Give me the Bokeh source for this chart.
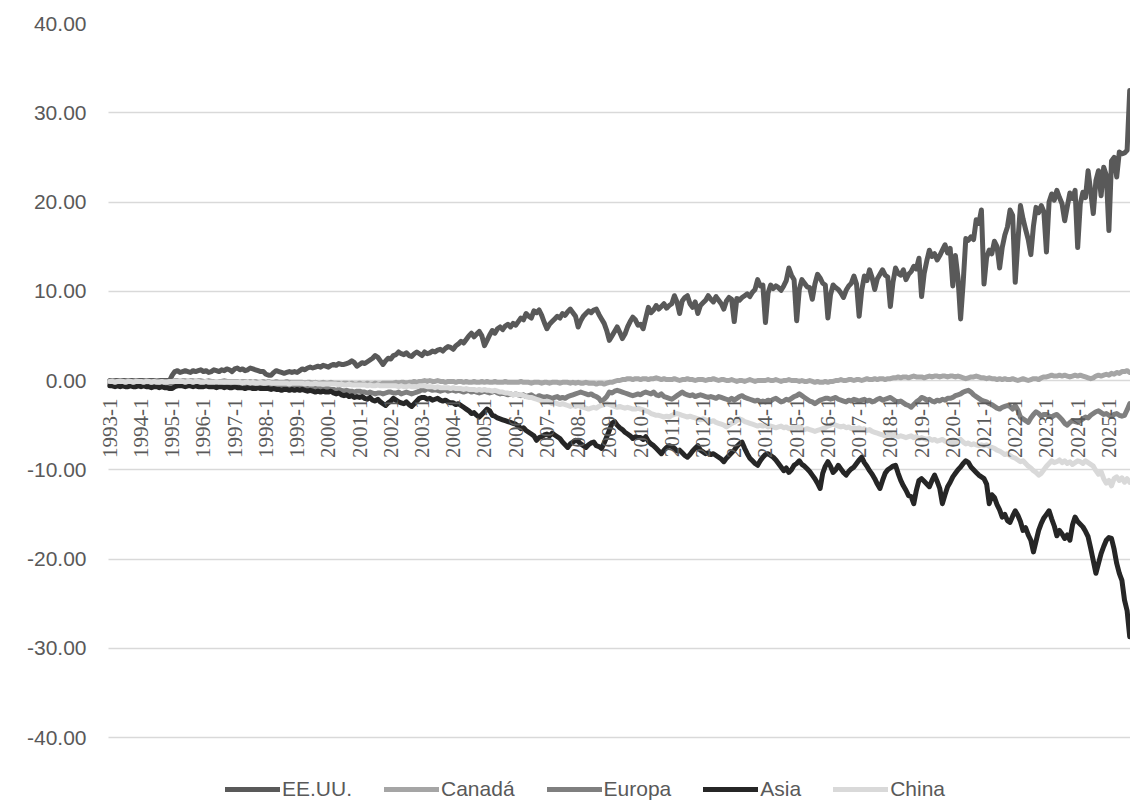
from math import pi
from bokeh.plotting import figure
from bokeh.models import ColumnDataSource, FixedTicker, NumeralTickFormatter, Range1d, LabelSet
from bokeh.embed import file_html
from bokeh.resources import INLINE

# ---------------- data (monthly, 1993-1 .. 2025-9) ----------------
series_names = ["EE.UU.", "Canadá", "Europa", "Asia", "China"]

tick_labels = ["1993-1", "1994-1", "1995-1", "1996-1", "1997-1", "1998-1", "1999-1",
               "2000-1", "2001-1", "2002-1", "2003-1", "2004-1", "2005-1", "2006-1",
               "2007-1", "2008-1", "2009-1", "2010-1", "2011-1", "2012-1", "2013-1",
               "2014-1", "2015-1", "2016-1", "2017-1", "2018-1", "2019-1", "2020-1",
               "2021-1", "2022-1", "2023-1", "2024-1", "2025-1"]

eeuu = [
    0, 0, 0, 0, 0, 0, 0, 0, 0, 0, 0, 0,
    0, 0, 0, 0, 0, 0, 0, 0, 0, 0, 0, 0,
    0.6, 1.0, 1.1, 0.9, 1.0, 1.1, 1.0, 0.9, 1.1, 1.0, 1.1, 1.2,
    1.0, 1.1, 0.9, 1.0, 1.2, 1.1, 1.0, 1.2, 1.1, 1.3, 1.2, 1.0,
    1.3, 1.4, 1.2, 1.3, 1.1, 1.2, 1.4, 1.3, 1.2, 1.1, 1.0, 1.0,
    0.7, 0.6, 0.6, 0.9, 1.1, 1.0, 0.9, 0.8, 0.9, 1.0, 0.9, 1.0,
    0.9, 1.1, 1.3, 1.2, 1.4, 1.5, 1.4, 1.5, 1.6, 1.5, 1.7, 1.6,
    1.5, 1.7, 1.8, 1.7, 1.9, 1.8, 1.8, 1.9, 2.0, 2.2, 2.0, 1.6,
    1.8, 2.0, 1.9, 2.1, 2.3, 2.5, 2.8, 2.6, 2.2, 1.8, 2.2, 2.5,
    2.4, 2.8, 2.9, 3.2, 3.0, 2.9, 3.1, 2.8, 2.7, 3.0, 3.2, 3.0,
    2.8, 3.2, 3.0, 3.1, 3.3, 3.2, 3.4, 3.5, 3.3, 3.6, 3.8, 3.7,
    3.5, 3.9, 4.1, 4.4, 4.2, 4.6, 5.0, 5.3, 4.9, 5.2, 5.5, 5.0,
    3.9, 4.5, 5.1, 5.6, 5.3, 5.8, 6.0, 5.7, 6.1, 6.3, 6.0, 6.4,
    6.2, 6.6, 7.0, 6.8, 7.5, 7.2, 7.0, 7.8, 7.6, 7.9, 7.3, 6.5,
    5.8, 6.3, 6.6, 6.9, 7.2, 7.0, 7.5, 7.3, 7.7, 8.0, 7.6, 7.2,
    6.0, 6.7, 7.2, 7.5, 7.8, 7.6, 7.9, 8.0, 7.4, 6.9, 6.4, 5.6,
    4.5, 5.0, 5.5, 6.0, 5.4, 4.7, 5.2, 6.0, 6.6, 7.1, 6.8, 6.2,
    6.3, 5.8, 7.0, 8.2, 7.6, 7.9, 8.4, 8.0, 8.3, 8.6, 8.1, 8.4,
    8.6, 9.5, 8.8, 7.5, 8.9, 9.3, 9.5, 8.6, 8.2, 8.8, 7.5, 8.4,
    8.7, 9.0, 9.5, 9.1, 8.8, 9.4, 9.0, 8.6, 8.0, 8.9, 9.3, 9.1,
    6.6, 9.2, 9.0, 9.3, 9.5, 9.7, 9.4, 9.9, 10.2, 11.3, 10.6, 10.7,
    6.5, 9.8, 10.7, 10.3, 10.6, 10.4, 10.1, 10.6, 11.2, 12.6, 11.8, 11.3,
    6.7, 10.2, 11.3, 10.9, 10.5, 10.4, 9.1, 10.8, 11.9, 11.5, 10.9, 10.7,
    7.0, 9.6, 10.7, 10.4, 10.2, 9.8, 9.3, 10.1, 10.6, 10.9, 11.7, 10.8,
    7.2, 10.1, 11.7, 11.2, 12.4, 11.5, 10.2, 11.4, 11.9, 12.4, 11.8, 11.6,
    8.3, 11.0, 12.6, 12.0, 11.8, 12.4, 11.3, 11.9, 12.2, 12.8, 12.5, 13.7,
    9.4, 12.0, 13.4, 14.6, 13.9, 14.2, 13.5, 14.0, 14.6, 15.2, 14.3, 14.8,
    10.6, 14.0, 11.5, 6.9, 11.0, 15.9, 15.7, 16.1, 15.8, 18.0, 17.6, 19.1,
    10.8, 13.8, 14.6, 14.2, 15.6, 15.0, 12.6, 14.9, 16.3, 17.2, 19.1, 18.5,
    11.0, 15.5, 19.6, 18.1, 16.9, 15.8, 14.1, 17.3, 19.4, 18.8, 19.6, 18.9,
    14.4, 20.0, 20.9, 20.2, 21.3, 20.5, 19.8, 17.9, 19.5, 21.0, 20.4, 21.3,
    14.9, 19.8, 21.1, 20.5, 23.5, 21.2, 18.7, 22.4, 23.5, 20.7, 23.9, 23.0,
    16.8, 24.6, 25.0, 22.8, 25.6, 25.4, 25.5, 25.8, 32.5,
]

canada = [
    -0.1, 0.0, -0.1, -0.1, 0.0, -0.1, -0.1, 0.0, -0.1, -0.1, 0.0, -0.1,
    -0.1, -0.1, 0.0, -0.1, -0.1, -0.1, 0.0, -0.1, -0.1, -0.1, -0.1, -0.1,
    -0.1, 0.0, 0.0, -0.1, 0.0, 0.0, -0.1, 0.0, 0.0, -0.1, 0.0, 0.0,
    -0.1, -0.1, 0.0, -0.1, -0.1, -0.1, -0.1, -0.1, 0.0, -0.1, -0.1, -0.1,
    -0.1, -0.1, -0.2, -0.1, -0.1, -0.2, -0.1, -0.2, -0.1, -0.2, -0.2, -0.1,
    -0.2, -0.1, -0.2, -0.2, -0.1, -0.2, -0.2, -0.2, -0.1, -0.2, -0.2, -0.2,
    -0.2, -0.2, -0.2, -0.3, -0.2, -0.2, -0.3, -0.2, -0.3, -0.3, -0.2, -0.3,
    -0.3, -0.2, -0.3, -0.3, -0.3, -0.4, -0.3, -0.3, -0.4, -0.3, -0.4, -0.4,
    -0.3, -0.4, -0.4, -0.3, -0.4, -0.4, -0.3, -0.4, -0.4, -0.3, -0.3, -0.3,
    -0.3, -0.3, -0.2, -0.3, -0.2, -0.2, -0.3, -0.2, -0.2, -0.1, -0.2, -0.1,
    -0.1, 0.0, -0.1, 0.0, -0.1, -0.1, 0.0, -0.1, -0.1, -0.2, -0.1, -0.1,
    -0.1, -0.2, -0.1, -0.1, -0.2, -0.1, -0.2, -0.2, -0.1, -0.2, -0.2, -0.1,
    -0.2, -0.1, -0.2, -0.2, -0.1, -0.2, -0.2, -0.2, -0.1, -0.2, -0.2, -0.2,
    -0.2, -0.2, -0.1, -0.2, -0.2, -0.2, -0.3, -0.2, -0.2, -0.2, -0.3, -0.2,
    -0.2, -0.3, -0.2, -0.2, -0.2, -0.3, -0.2, -0.2, -0.2, -0.3, -0.2, -0.3,
    -0.2, -0.3, -0.3, -0.2, -0.3, -0.3, -0.3, -0.4, -0.3, -0.3, -0.4, -0.3,
    -0.2, -0.2, -0.1, 0.0, 0.0, 0.1, 0.1, 0.2, 0.2, 0.1, 0.2, 0.2,
    0.1, 0.2, 0.2, 0.1, 0.2, 0.2, 0.3, 0.2, 0.1, 0.2, 0.1, 0.1,
    0.1, 0.2, 0.1, 0.0, 0.1, 0.1, 0.2, 0.1, 0.1, 0.0, 0.1, 0.1,
    0.1, 0.0, 0.1, 0.1, 0.2, 0.1, 0.0, 0.1, 0.1, 0.0, 0.0, 0.1,
    0.0, -0.1, 0.0, 0.0, -0.1, 0.0, 0.1, 0.0, -0.1, 0.0, 0.0, 0.0,
    0.0, 0.1, 0.0, 0.0, 0.1, 0.0, -0.1, 0.0, 0.0, 0.1, 0.0, 0.0,
    0.0, -0.1, 0.0, -0.1, -0.1, 0.0, -0.1, -0.2, -0.1, -0.2, -0.2, -0.1,
    -0.2, -0.1, -0.1, 0.0, 0.0, 0.1, 0.0, 0.0, 0.1, 0.1, 0.0, 0.1,
    0.1, 0.0, 0.1, 0.2, 0.1, 0.1, 0.2, 0.1, 0.2, 0.2, 0.1, 0.2,
    0.2, 0.3, 0.3, 0.4, 0.3, 0.4, 0.4, 0.3, 0.4, 0.5, 0.4, 0.4,
    0.4, 0.3, 0.4, 0.5, 0.4, 0.5, 0.5, 0.4, 0.5, 0.5, 0.4, 0.5,
    0.5, 0.4, 0.5, 0.4, 0.3, 0.2, 0.3, 0.4, 0.4, 0.5, 0.4, 0.3,
    0.3, 0.2, 0.3, 0.2, 0.2, 0.1, 0.2, 0.1, 0.2, 0.1, 0.1, 0.2,
    0.1, 0.0, 0.1, 0.2, 0.1, 0.0, 0.1, 0.2, 0.2, 0.1, 0.3, 0.4,
    0.4, 0.5, 0.6, 0.5, 0.5, 0.6, 0.5, 0.6, 0.5, 0.4, 0.5, 0.6,
    0.5, 0.6, 0.5, 0.4, 0.3, 0.2, 0.3, 0.5, 0.6, 0.5, 0.6, 0.7,
    0.6, 0.8, 0.7, 0.9, 0.8, 1.0, 1.0, 1.1, 0.9,
]

europa = [
    -0.3, -0.3, -0.3, -0.3, -0.4, -0.3, -0.3, -0.4, -0.3, -0.4, -0.3, -0.4,
    -0.4, -0.3, -0.4, -0.4, -0.4, -0.4, -0.5, -0.4, -0.4, -0.5, -0.4, -0.5,
    -0.4, -0.3, -0.3, -0.3, -0.4, -0.3, -0.3, -0.4, -0.3, -0.4, -0.4, -0.4,
    -0.4, -0.4, -0.4, -0.5, -0.4, -0.5, -0.5, -0.4, -0.5, -0.5, -0.5, -0.5,
    -0.5, -0.5, -0.6, -0.5, -0.6, -0.6, -0.6, -0.5, -0.6, -0.6, -0.7, -0.6,
    -0.6, -0.7, -0.7, -0.6, -0.7, -0.7, -0.8, -0.7, -0.7, -0.8, -0.7, -0.8,
    -0.7, -0.8, -0.8, -0.8, -0.9, -0.8, -0.9, -0.9, -0.8, -0.9, -1.0, -0.9,
    -0.9, -1.0, -1.0, -1.1, -1.0, -1.1, -1.2, -1.1, -1.2, -1.2, -1.3, -1.2,
    -1.2, -1.3, -1.3, -1.4, -1.3, -1.4, -1.5, -1.4, -1.4, -1.5, -1.4, -1.3,
    -1.3, -1.4, -1.4, -1.3, -1.5, -1.4, -1.3, -1.4, -1.5, -1.4, -1.3, -1.2,
    -1.0, -1.1, -0.9, -1.0, -1.1, -1.0, -1.1, -1.2, -1.1, -1.0, -1.2, -1.1,
    -1.1, -1.2, -1.1, -1.2, -1.3, -1.2, -1.1, -1.3, -1.2, -1.3, -1.4, -1.3,
    -1.2, -1.3, -1.4, -1.3, -1.2, -1.4, -1.5, -1.4, -1.5, -1.6, -1.5, -1.6,
    -1.5, -1.6, -1.7, -1.6, -1.8, -1.7, -1.6, -1.8, -1.9, -1.7, -1.8, -1.9,
    -1.8, -1.9, -2.0, -1.9, -1.8, -2.0, -1.9, -2.0, -1.8, -1.7, -1.6, -1.5,
    -1.4, -1.3, -1.4, -1.5, -1.6, -1.5, -1.7, -1.8, -2.0, -2.4, -2.1, -1.8,
    -1.3, -1.4, -1.2, -1.1, -1.2, -1.3, -1.4, -1.5, -1.6, -1.7, -1.6, -1.5,
    -1.6, -1.4, -1.3, -1.4, -1.5, -1.3, -1.6, -1.7, -1.5, -1.8, -1.9, -2.0,
    -2.1, -1.9, -1.7, -1.5, -1.3, -1.5, -1.6, -1.7, -1.6, -1.8, -1.7, -1.6,
    -1.7, -1.8, -1.9, -1.8, -1.9, -2.0, -1.8, -1.9, -2.0, -2.1, -2.2, -2.0,
    -2.2, -2.0, -1.8, -1.7, -1.9, -2.0, -2.1, -2.2, -2.3, -2.2, -2.4, -2.3,
    -2.4, -2.2, -2.3, -2.1, -2.0, -2.2, -2.4, -2.3, -2.1, -2.2, -2.0, -1.8,
    -1.7, -1.5, -1.7, -1.9, -2.1, -2.3, -2.4, -2.6, -2.4, -2.2, -2.1, -2.0,
    -2.0, -2.1, -2.0, -1.9, -2.1, -2.2, -2.3, -2.4, -2.2, -2.3, -2.1, -2.2,
    -2.3, -2.2, -2.1, -2.3, -2.2, -2.4, -2.3, -2.1, -2.0, -2.2, -2.1, -2.0,
    -1.9, -2.1, -2.3, -2.4, -2.3, -2.5, -2.7, -2.8, -3.0, -2.7, -2.4, -2.2,
    -1.9, -2.0, -2.2, -2.1, -2.3, -2.4, -2.2, -2.3, -2.1, -2.2, -2.0, -2.0,
    -1.9, -1.7, -1.6, -1.5, -1.3, -1.2, -1.1, -1.3, -1.6, -1.8, -2.0, -2.2,
    -2.3, -2.4, -2.6, -2.7, -2.9, -3.1, -3.2, -3.0, -2.9, -2.8, -2.9, -3.2,
    -2.8, -3.3, -4.1, -4.3, -4.5, -4.7, -4.2, -3.8, -3.5, -3.7, -4.0, -3.8,
    -3.8, -4.0, -4.1, -3.9, -3.8, -4.1, -4.4, -4.8, -5.0, -4.7, -4.5, -4.6,
    -4.7, -4.5, -4.3, -4.1, -4.2, -3.9, -3.7, -3.5, -3.4, -3.6, -3.8, -3.7,
    -3.9, -4.0, -3.8, -3.7, -3.9, -4.0, -3.9, -3.3, -2.6,
]

asia = [
    -0.6, -0.6, -0.7, -0.6, -0.7, -0.6, -0.7, -0.7, -0.6, -0.7, -0.7, -0.6,
    -0.7, -0.6, -0.7, -0.7, -0.8, -0.7, -0.7, -0.8, -0.7, -0.8, -0.8, -0.9,
    -0.9, -0.7, -0.6, -0.6, -0.6, -0.7, -0.6, -0.6, -0.7, -0.6, -0.7, -0.7,
    -0.7, -0.6, -0.7, -0.7, -0.7, -0.8, -0.7, -0.7, -0.8, -0.7, -0.8, -0.8,
    -0.7, -0.8, -0.8, -0.8, -0.9, -0.8, -0.8, -0.9, -0.9, -0.8, -0.9, -0.9,
    -0.9, -0.9, -1.0, -0.9, -1.0, -1.0, -1.1, -1.0, -1.0, -1.1, -1.0, -1.1,
    -1.0, -1.1, -1.0, -1.1, -1.2, -1.1, -1.2, -1.3, -1.2, -1.3, -1.2, -1.3,
    -1.3, -1.2, -1.4, -1.5, -1.4, -1.6, -1.7, -1.6, -1.8, -1.7, -1.9, -1.8,
    -1.9, -1.8, -2.0, -2.1, -1.9, -2.2, -2.3, -2.1, -2.4, -2.6, -2.8, -2.5,
    -2.3, -2.0, -2.2, -2.4, -2.5, -2.6, -2.4, -2.7, -2.9, -2.6, -2.3, -2.0,
    -1.9, -1.9, -2.1, -2.0, -2.2, -2.1, -2.0, -2.2, -2.3, -2.2, -2.4, -2.5,
    -2.5, -2.7, -2.6, -2.8, -3.0, -3.2, -3.4, -3.7, -3.6, -3.9, -4.1, -3.8,
    -3.5, -3.2, -3.4, -3.9, -4.0, -4.2, -4.3, -4.4, -4.5, -4.6, -4.7, -4.8,
    -4.9, -5.1, -5.4, -5.3, -5.6, -5.8, -6.0, -6.2, -6.7, -6.4, -6.3, -6.1,
    -6.0, -6.2, -5.9, -6.1, -6.3, -6.5, -6.9, -7.2, -7.5, -7.1, -6.9, -6.7,
    -6.8, -7.1, -7.3, -7.5, -7.2, -7.0, -6.9, -7.3, -7.4, -7.6, -7.0, -6.3,
    -5.6, -4.8, -4.6, -5.0, -5.3, -5.5, -5.8, -6.0, -6.2, -6.5, -6.3, -6.4,
    -6.4, -6.6, -6.3, -6.8, -7.1, -7.3, -7.6, -7.9, -8.2, -7.8, -7.5, -7.3,
    -7.4, -7.6, -7.9, -7.8, -8.1, -8.4, -8.6, -8.3, -7.9, -7.6, -7.3, -7.8,
    -8.0, -8.2, -8.1, -8.3, -8.2, -8.4, -8.6, -8.8, -9.1, -8.7, -8.4, -8.1,
    -7.8, -7.4, -7.1, -6.9, -7.6, -8.2, -8.7, -9.0, -9.3, -9.5, -9.0, -8.6,
    -8.3, -8.2, -8.4, -8.6, -8.9, -9.3, -9.7, -10.1, -9.8, -10.3, -10.0, -9.5,
    -9.3, -9.0, -9.4, -9.6, -9.9, -10.2, -10.6, -11.0, -11.5, -12.1, -10.4, -9.6,
    -9.1, -9.6, -10.3, -10.0, -9.5, -9.9, -10.3, -10.6, -10.2, -9.9, -9.7, -9.3,
    -8.9, -8.6, -9.2, -9.6, -10.1, -10.5, -11.0, -11.6, -12.1, -11.2, -10.4, -10.0,
    -9.8, -9.6, -9.5, -10.4, -11.2, -11.8, -12.3, -12.9, -13.0, -13.8, -12.3, -11.2,
    -11.0, -11.3, -11.6, -11.9, -11.2, -10.6, -11.3, -12.1, -13.8, -12.8, -11.9, -11.4,
    -10.8, -10.4, -10.0, -9.7, -9.3, -9.0, -9.2, -9.7, -10.0, -10.3, -10.6, -10.8,
    -11.0, -11.6, -13.8, -12.8, -13.1, -13.9, -14.5, -15.3, -15.0, -15.7, -15.9, -15.2,
    -14.6, -15.1, -15.8, -16.8, -16.5, -17.3, -17.9, -19.2, -18.0, -16.8, -16.0, -15.4,
    -15.0, -14.6, -15.5, -16.3, -17.4, -16.8, -17.2, -17.7, -17.3, -17.9, -16.2, -15.3,
    -15.8, -16.1, -16.4, -16.9, -17.5, -18.8, -20.2, -21.6, -20.5, -19.4, -18.6, -17.9,
    -17.6, -17.7, -18.9, -20.5, -21.6, -22.4, -24.6, -25.8, -28.7,
]

china = [
    -0.1, -0.1, -0.2, -0.1, -0.1, -0.1, -0.2, -0.1, -0.1, -0.2, -0.1, -0.1,
    -0.1, -0.2, -0.1, -0.1, -0.2, -0.1, -0.2, -0.2, -0.1, -0.2, -0.2, -0.1,
    -0.1, -0.1, -0.1, -0.1, -0.1, -0.2, -0.1, -0.1, -0.2, -0.1, -0.1, -0.2,
    -0.2, -0.1, -0.2, -0.2, -0.2, -0.1, -0.2, -0.2, -0.2, -0.2, -0.2, -0.2,
    -0.2, -0.2, -0.2, -0.3, -0.2, -0.2, -0.3, -0.2, -0.3, -0.3, -0.2, -0.3,
    -0.3, -0.2, -0.3, -0.3, -0.3, -0.3, -0.3, -0.3, -0.3, -0.4, -0.3, -0.3,
    -0.3, -0.3, -0.3, -0.4, -0.3, -0.4, -0.4, -0.3, -0.4, -0.4, -0.4, -0.4,
    -0.4, -0.4, -0.4, -0.4, -0.5, -0.4, -0.5, -0.5, -0.4, -0.5, -0.5, -0.5,
    -0.5, -0.5, -0.5, -0.6, -0.5, -0.6, -0.6, -0.5, -0.6, -0.6, -0.6, -0.6,
    -0.6, -0.6, -0.6, -0.7, -0.6, -0.7, -0.7, -0.6, -0.7, -0.7, -0.7, -0.6,
    -0.6, -0.6, -0.7, -0.7, -0.7, -0.8, -0.7, -0.8, -0.8, -0.8, -0.8, -0.9,
    -0.8, -0.9, -0.9, -0.9, -1.0, -0.9, -1.0, -1.0, -1.0, -1.1, -1.0, -1.1,
    -1.0, -1.1, -1.1, -1.2, -1.1, -1.2, -1.3, -1.3, -1.4, -1.4, -1.5, -1.6,
    -1.5, -1.6, -1.6, -1.7, -1.8, -1.9, -1.9, -2.0, -2.1, -2.2, -2.3, -2.4,
    -2.3, -2.4, -2.6, -2.5, -2.6, -2.7, -2.6, -2.7, -2.8, -2.9, -2.8, -2.9,
    -2.8, -2.9, -3.0, -3.1, -3.2, -3.1, -3.0, -3.1, -2.9, -2.8, -2.7, -2.6,
    -2.7, -2.8, -2.9, -3.0, -2.9, -3.0, -3.1, -3.0, -3.1, -3.2, -3.2, -3.1,
    -3.2, -3.3, -3.4, -3.5, -3.7, -3.8, -3.9, -3.9, -4.0, -4.1, -4.0, -4.1,
    -3.9, -3.8, -3.7, -3.8, -3.9, -4.0, -4.1, -4.0, -4.1, -4.2, -4.3, -4.4,
    -4.3, -4.4, -4.5, -4.6, -4.5, -4.7, -4.8, -4.9, -5.0, -5.2, -5.0, -4.8,
    -4.7, -4.5, -4.3, -4.4, -4.6, -4.7, -4.8, -4.9, -5.0, -5.1, -5.0, -5.1,
    -5.0, -5.2, -5.1, -5.2, -5.3, -5.2, -5.1, -5.3, -5.2, -5.4, -5.3, -5.2,
    -5.3, -5.2, -5.4, -5.5, -5.4, -5.5, -5.6, -5.7, -5.6, -5.5, -5.4, -5.3,
    -5.1, -5.0, -4.9, -5.0, -5.1, -5.2, -5.1, -5.3, -5.2, -5.4, -5.3, -5.4,
    -5.3, -5.5, -5.4, -5.6, -5.5, -5.7, -5.8, -5.9, -6.0, -6.1, -6.2, -6.1,
    -6.0, -6.2, -6.1, -6.3, -6.2, -6.3, -6.4, -6.3, -6.2, -6.4, -6.3, -6.5,
    -6.4, -6.5, -6.6, -6.5, -6.7, -6.6, -6.8, -6.7, -6.6, -6.8, -6.9, -7.0,
    -6.9, -7.0, -6.8, -6.6, -6.9, -7.1, -7.0, -7.2, -7.1, -7.2, -7.3, -7.2,
    -7.3, -7.2, -7.4, -7.5, -7.6, -7.8, -7.9, -8.1, -8.3, -8.2, -8.4, -8.6,
    -8.7, -8.9, -9.1, -9.0, -9.3, -9.6, -9.8, -10.1, -10.3, -10.6, -10.4, -10.0,
    -9.6, -9.3, -9.0, -9.2, -9.1, -8.9, -9.2, -9.0, -9.3, -9.1, -9.4, -9.2,
    -9.0, -9.1, -9.3, -9.0, -9.2, -9.4, -9.6, -10.1, -10.5, -10.2, -11.0, -11.5,
    -11.2, -11.8, -11.0, -10.8, -11.2, -10.9, -11.4, -11.0, -11.4,
]

series_values = [eeuu, canada, europa, asia, china]
series_colors = ["#595959", "#A5A5A5", "#7F7F7F", "#262626", "#D9D9D9"]

# ---------------- figure ----------------
FONT = "Liberation Sans"
TXT = "#595959"
X_START = -0.5
X_END = 392.3
PAD = 12  # extra frame px on the left so the first category label is not clipped
X_FRAME_START = X_START - PAD * (X_END - X_START) / 1022.0

p = figure(width=1130, height=801, output_backend="svg", toolbar_location=None,
           x_axis_location=None, y_axis_location="left",
           x_range=Range1d(X_FRAME_START, X_END), y_range=Range1d(-47.17, 40),
           min_border_left=108 - PAD, min_border_right=0, min_border_top=23,
           min_border_bottom=0)
p.outline_line_color = None
p.background_fill_color = "white"
p.border_fill_color = "white"

yt = FixedTicker(ticks=[-40, -30, -20, -10, 0, 10, 20, 30, 40])
p.yaxis.ticker = yt
p.yaxis.formatter = NumeralTickFormatter(format="0.00")
p.yaxis.axis_line_color = None
p.yaxis.major_tick_line_color = None
p.yaxis.minor_tick_line_color = None
p.yaxis.major_tick_out = 0
p.yaxis.major_tick_in = 0
p.yaxis.major_label_standoff = 22 - PAD
p.yaxis.major_label_text_font = FONT
p.yaxis.major_label_text_font_size = "21px"
p.yaxis.major_label_text_color = TXT

p.xgrid.visible = False
p.ygrid.ticker = yt
p.ygrid.grid_line_color = "#D9D9D9"
p.ygrid.grid_line_width = 1.5
g = p.ygrid[0]
if "cross_bounds" in g.properties():
    g.cross_bounds = (X_START, X_END)

n = len(eeuu)
months = list(range(n))
for name, vals, col in zip(series_names, series_values, series_colors):
    src = ColumnDataSource(dict(x=months, y=vals))
    p.line("x", "y", source=src, line_color=col, line_width=5,
           line_join="round", line_cap="round", legend_label=name)

# category labels along the zero line (annotation, drawn above the lines)
lab_src = ColumnDataSource(dict(x=[12 * i for i in range(len(tick_labels))],
                                y=[0] * len(tick_labels), t=tick_labels))
labels = LabelSet(x="x", y="y", text="t", source=lab_src, angle=pi / 2,
                  text_align="right", text_baseline="middle", y_offset=-18,
                  text_font=FONT, text_font_size="21px", text_color=TXT)
p.add_layout(labels)

lg = p.legend[0]
lg.location = (117 + PAD, 0)
lg.orientation = "horizontal"
lg.border_line_color = None
lg.background_fill_alpha = 0
lg.padding = 0
lg.margin = 0
lg.spacing = 32
lg.glyph_width = 55
lg.label_standoff = 2
lg.label_text_font = FONT
lg.label_text_font_size = "21px"
lg.label_text_color = TXT

open("out.html", "w").write(file_html(p, INLINE))
